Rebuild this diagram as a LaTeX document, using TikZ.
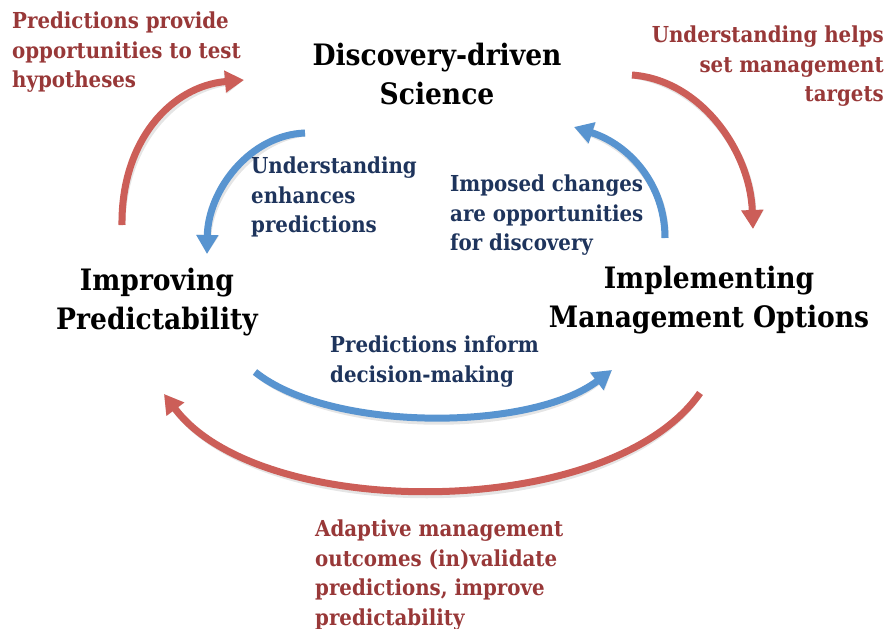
\documentclass[tikz,border=0pt]{standalone}
\usepackage{fontspec}
\setmainfont{DejaVu Serif Condensed}
\usetikzlibrary{arrows.meta}
\definecolor{redtxt}{RGB}{152,56,56}
\definecolor{bluetxt}{RGB}{30,52,92}
\definecolor{redarr}{RGB}{204,94,88}
\definecolor{bluearr}{RGB}{88,148,208}
\tikzset{
  lbl/.style={font=\bfseries\fontsize{22}{29.5}\selectfont, inner sep=0pt},
  ttl/.style={font=\bfseries\fontsize{29.5}{38.5}\selectfont, text=black, align=center, inner sep=0pt},
  redlbl/.style={lbl, text=redtxt},
  bluelbl/.style={lbl, text=bluetxt},
  arr/.style={line width=7pt, -{Triangle[width=21pt,length=19pt]}},
  redarrow/.style={arr, draw=redarr},
  bluearrow/.style={arr, draw=bluearr},
  shadow/.style={arr, draw=black, opacity=0.10, shift={(2,4)}}
}
\begin{document}
\begin{tikzpicture}[x=1pt,y=-1pt]
\useasboundingbox (0,0) rectangle (887,629);
% titles
\node[ttl] (dis) at (437,74) {Discovery-driven\\Science};
\node[ttl] (imp) at (157,302) {Improving\\Predictability};
\node[ttl] (man) at (709,300) {Implementing\\Management Options};
% labels
\node[redlbl, align=left, anchor=north west] (l1) at (12,12) {Predictions provide\\opportunities to test\\hypotheses};
\node[redlbl, align=right, anchor=north east] (l2) at (884,26) {Understanding helps\\set management\\targets};
\node[bluelbl, align=left, anchor=north west] (l3) at (251,157) {Understanding\\enhances\\predictions};
\node[bluelbl, align=left, anchor=north west] (l4) at (450,175) {Imposed changes\\are opportunities\\for discovery};
\node[bluelbl, align=left, anchor=north west] (l5) at (330,336) {Predictions inform\\decision-making};
\node[redlbl, align=left, anchor=north west] (l6) at (315,520) {Adaptive management\\outcomes (in)validate\\predictions, improve\\predictability};
% arrow end points
\coordinate (a1s) at (122,225); \coordinate (a1e) at (244,80);
\coordinate (a2s) at (632,75);  \coordinate (a2e) at (753,229);
\coordinate (a3s) at (305,133); \coordinate (a3e) at (207,254);
\coordinate (a4s) at (665,238); \coordinate (a4e) at (574,127);
\coordinate (a5s) at (255,372); \coordinate (a5e) at (612,370);
\coordinate (a6s) at (700,393); \coordinate (a6e) at (164,394);
% shadows
\draw[shadow] (a1s) .. controls (121,140) and (172,86) .. (a1e);
\draw[shadow] (a2s) .. controls (700,80) and (750,150) .. (a2e);
\draw[shadow] (a3s) .. controls (250,135) and (208,190) .. (a3e);
\draw[shadow] (a4s) .. controls (665,185) and (630,145) .. (a4e);
\draw[shadow] (a5s) .. controls (330,432) and (530,432) .. (a5e);
\draw[shadow] (a6s) .. controls (610,522) and (260,522) .. (a6e);
% arrows
\draw[redarrow] (a1s) .. controls (121,140) and (172,86) .. (a1e);
\draw[redarrow] (a2s) .. controls (700,80) and (750,150) .. (a2e);
\draw[bluearrow] (a3s) .. controls (250,135) and (208,190) .. (a3e);
\draw[bluearrow] (a4s) .. controls (665,185) and (630,145) .. (a4e);
\draw[bluearrow] (a5s) .. controls (330,432) and (530,432) .. (a5e);
\draw[redarrow] (a6s) .. controls (610,522) and (260,522) .. (a6e);
\end{tikzpicture}
\end{document}
